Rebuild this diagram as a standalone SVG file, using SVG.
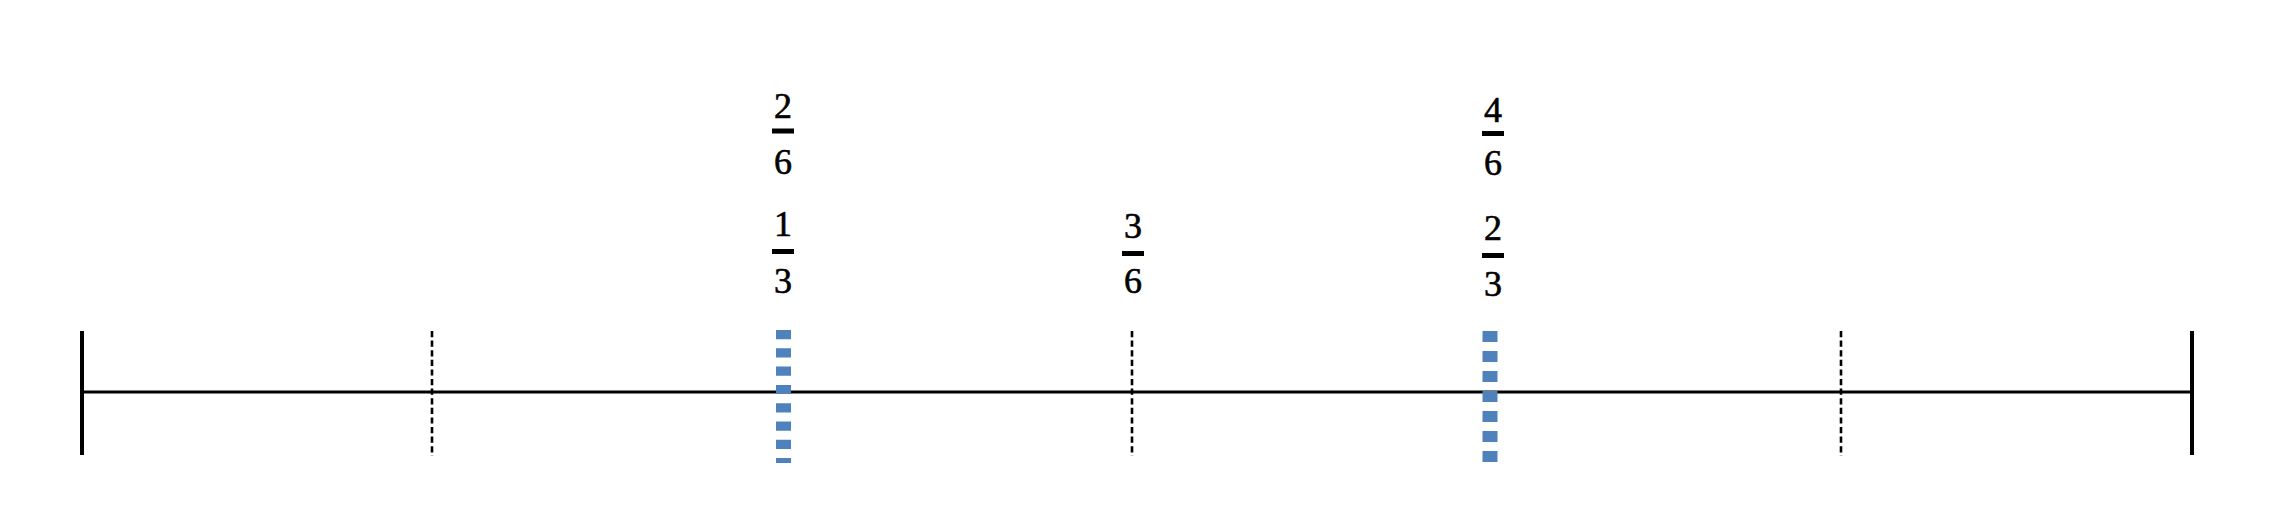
<svg xmlns="http://www.w3.org/2000/svg" width="2274" height="524" viewBox="0 0 2274 524">
  <style>
    .axis { stroke: #000; stroke-width: 3; fill: none; }
    .end { stroke: #000; stroke-width: 4; fill: none; }
    .tick { stroke: #000; stroke-width: 2.6; stroke-dasharray: 6.2 3.4; fill: none; }
    .mark { stroke: #4F81BD; stroke-width: 15; fill: none; }
    .num { font-family: "Liberation Serif", "DejaVu Serif", serif; font-size: 36px; fill: #000; stroke: #000; stroke-width: 0.6; text-anchor: middle; }
    .bar { fill: #000; }
  </style>
  <rect width="2274" height="524" fill="#fff"/>
  <g id="connectors">
    <line id="axis" class="axis" x1="82" y1="392" x2="2192" y2="392"/>
  </g>
  <g id="end-left"><line class="end" x1="82" y1="331" x2="82" y2="455"/></g>
  <g id="end-right"><line class="end" x1="2192" y1="331" x2="2192" y2="455"/></g>
  <g id="tick-1-6"><line class="tick" x1="432" y1="331" x2="432" y2="456"/></g>
  <g id="tick-3-6"><line class="tick" x1="1132" y1="331" x2="1132" y2="456"/></g>
  <g id="tick-5-6"><line class="tick" x1="1841" y1="331" x2="1841" y2="456"/></g>
  <g id="mark-1-3"><line class="mark" x1="783.5" y1="330" x2="783.5" y2="463" stroke-dasharray="9.2 9.1"/></g>
  <g id="mark-2-3"><line class="mark" x1="1490" y1="331" x2="1490" y2="463" stroke-dasharray="11 9"/></g>
  <g id="frac-2-6">
    <text class="num" x="783" y="118">2</text>
    <rect class="bar" x="772" y="128.5" width="22" height="5"/>
    <text class="num" x="783" y="174">6</text>
  </g>
  <g id="frac-1-3">
    <text class="num" x="783" y="236">1</text>
    <rect class="bar" x="772" y="249" width="22" height="5"/>
    <text class="num" x="783" y="293">3</text>
  </g>
  <g id="frac-3-6">
    <text class="num" x="1133" y="238">3</text>
    <rect class="bar" x="1122" y="251" width="22" height="5"/>
    <text class="num" x="1133" y="293">6</text>
  </g>
  <g id="frac-4-6">
    <text class="num" x="1493" y="122">4</text>
    <rect class="bar" x="1482" y="131" width="22" height="5"/>
    <text class="num" x="1493" y="175">6</text>
  </g>
  <g id="frac-2-3">
    <text class="num" x="1493" y="240">2</text>
    <rect class="bar" x="1482" y="253" width="22" height="5"/>
    <text class="num" x="1493" y="296">3</text>
  </g>
</svg>
